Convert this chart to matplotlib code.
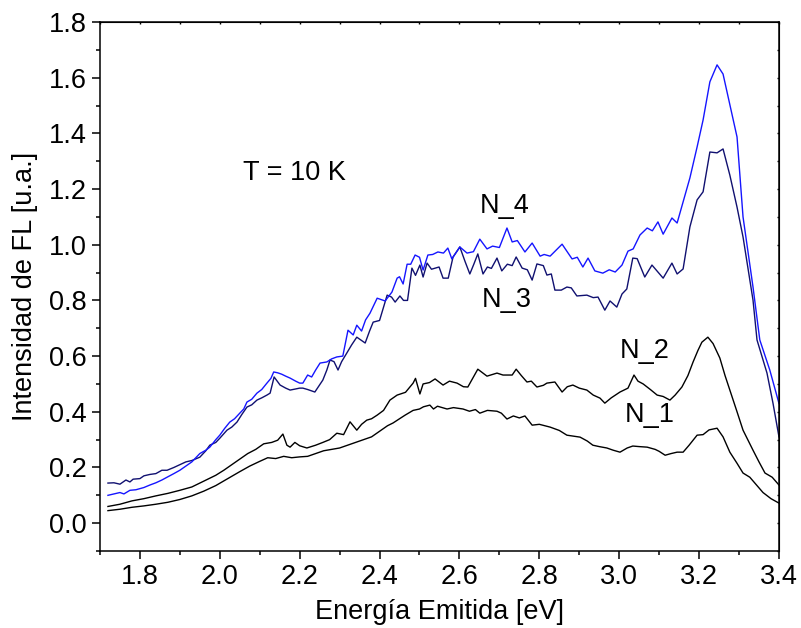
import matplotlib
matplotlib.use('Agg')
import matplotlib.pyplot as plt
from matplotlib.ticker import MultipleLocator

plt.rcParams['font.family'] = ['Liberation Sans', 'DejaVu Sans']

# N_1 (lowest curve)
n1_x = [1.72, 1.75, 1.78, 1.81, 1.84, 1.87, 1.90, 1.93, 1.96, 1.99, 2.02, 2.05, 2.075, 2.10, 2.12,
        2.14, 2.16, 2.18, 2.20, 2.22, 2.24, 2.26, 2.28, 2.30, 2.32, 2.34, 2.36, 2.38, 2.40, 2.42,
        2.434, 2.45, 2.464, 2.484, 2.50, 2.51, 2.526, 2.535, 2.545, 2.569, 2.585, 2.609, 2.625,
        2.64, 2.651, 2.67, 2.694, 2.705, 2.719, 2.735, 2.75, 2.764, 2.782, 2.80, 2.827, 2.85,
        2.869, 2.902, 2.92, 2.934, 2.95, 2.969, 2.985, 3.002, 3.02, 3.034, 3.05, 3.07, 3.09, 3.10,
        3.115, 3.13, 3.145, 3.16, 3.175, 3.195, 3.21, 3.225, 3.245, 3.26, 3.277, 3.295, 3.31,
        3.327, 3.345, 3.36, 3.38, 3.40]
n1_y = [0.045, 0.05, 0.057, 0.062, 0.068, 0.075, 0.085, 0.098, 0.115, 0.135, 0.16, 0.185, 0.205,
        0.222, 0.235, 0.232, 0.24, 0.235, 0.238, 0.24, 0.25, 0.26, 0.265, 0.27, 0.28, 0.29, 0.30,
        0.31, 0.33, 0.35, 0.36, 0.375, 0.388, 0.405, 0.41, 0.418, 0.424, 0.41, 0.42, 0.41, 0.415,
        0.41, 0.402, 0.408, 0.395, 0.405, 0.402, 0.395, 0.374, 0.385, 0.378, 0.385, 0.352, 0.355,
        0.345, 0.333, 0.316, 0.309, 0.295, 0.28, 0.275, 0.27, 0.262, 0.255, 0.27, 0.277, 0.275,
        0.273, 0.265, 0.258, 0.244, 0.25, 0.255, 0.255, 0.28, 0.316, 0.318, 0.335, 0.341, 0.31,
        0.255, 0.215, 0.18, 0.165, 0.135, 0.11, 0.088, 0.072]

# N_2
n2_x = [1.72, 1.75, 1.78, 1.81, 1.84, 1.87, 1.90, 1.93, 1.95, 1.97, 1.99, 2.01, 2.03, 2.05, 2.07,
        2.09, 2.11, 2.13, 2.145, 2.158, 2.168, 2.176, 2.188, 2.20, 2.218, 2.24, 2.258, 2.275,
        2.293, 2.31, 2.326, 2.343, 2.355, 2.368, 2.38, 2.394, 2.41, 2.426, 2.444, 2.465, 2.484,
        2.49, 2.501, 2.509, 2.525, 2.539, 2.559, 2.575, 2.594, 2.61, 2.621, 2.646, 2.669, 2.694,
        2.709, 2.732, 2.742, 2.755, 2.769, 2.78, 2.794, 2.81, 2.819, 2.839, 2.857, 2.87, 2.884,
        2.90, 2.919, 2.935, 2.952, 2.964, 2.98, 3.002, 3.022, 3.037, 3.047, 3.06, 3.078, 3.095,
        3.11, 3.127, 3.14, 3.157, 3.172, 3.185, 3.197, 3.207, 3.222, 3.235, 3.252, 3.265, 3.277,
        3.295, 3.31, 3.335, 3.35, 3.365, 3.383, 3.40]
n2_y = [0.06, 0.068, 0.08, 0.088, 0.098, 0.107, 0.118, 0.13, 0.144, 0.158, 0.172, 0.19, 0.21,
        0.23, 0.25, 0.265, 0.285, 0.29, 0.298, 0.32, 0.28, 0.273, 0.29, 0.278, 0.27, 0.28, 0.29,
        0.30, 0.323, 0.318, 0.364, 0.334, 0.355, 0.37, 0.375, 0.388, 0.405, 0.442, 0.46, 0.47,
        0.503, 0.52, 0.464, 0.50, 0.505, 0.518, 0.496, 0.51, 0.503, 0.49, 0.489, 0.553, 0.528,
        0.539, 0.532, 0.532, 0.553, 0.53, 0.507, 0.51, 0.489, 0.495, 0.503, 0.507, 0.471, 0.49,
        0.496, 0.485, 0.478, 0.46, 0.449, 0.431, 0.45, 0.471, 0.485, 0.532, 0.51, 0.50, 0.48,
        0.46, 0.455, 0.442, 0.46, 0.489, 0.53, 0.579, 0.62, 0.65, 0.668, 0.645, 0.593, 0.53,
        0.478, 0.40, 0.334, 0.262, 0.22, 0.18, 0.165, 0.137]

# N_3 (dark blue)
n3_x = [1.72, 1.735, 1.75, 1.765, 1.775, 1.783, 1.80, 1.81, 1.825, 1.84, 1.855, 1.868, 1.885,
        1.90, 1.915, 1.93, 1.95, 1.965, 1.975, 1.99, 2.00, 2.018, 2.03, 2.043, 2.055, 2.068, 2.08,
        2.093, 2.105, 2.118, 2.126, 2.136, 2.151, 2.165, 2.176, 2.19, 2.20, 2.208, 2.22, 2.238,
        2.258, 2.268, 2.276, 2.286, 2.296, 2.305, 2.318, 2.33, 2.343, 2.364, 2.375, 2.384, 2.40,
        2.419, 2.43, 2.439, 2.451, 2.46, 2.47, 2.481, 2.49, 2.501, 2.509, 2.519, 2.53, 2.549,
        2.559, 2.572, 2.584, 2.601, 2.614, 2.626, 2.636, 2.646, 2.659, 2.67, 2.68, 2.694, 2.706,
        2.72, 2.732, 2.742, 2.757, 2.77, 2.782, 2.794, 2.81, 2.819, 2.83, 2.839, 2.855, 2.869,
        2.88, 2.894, 2.919, 2.935, 2.947, 2.964, 2.977, 2.994, 3.007, 3.019, 3.034, 3.045, 3.064,
        3.082, 3.11, 3.132, 3.145, 3.16, 3.177, 3.195, 3.21, 3.227, 3.245, 3.26, 3.277, 3.295,
        3.31, 3.335, 3.345, 3.37, 3.385, 3.40]
n3_y = [0.144, 0.145, 0.14, 0.155, 0.148, 0.158, 0.16, 0.17, 0.175, 0.178, 0.19, 0.19, 0.20,
        0.21, 0.22, 0.225, 0.237, 0.26, 0.28, 0.29, 0.305, 0.334, 0.345, 0.363, 0.39, 0.417,
        0.425, 0.442, 0.45, 0.46, 0.467, 0.525, 0.496, 0.485, 0.478, 0.482, 0.485, 0.485, 0.48,
        0.471, 0.514, 0.55, 0.586, 0.58, 0.55, 0.58, 0.611, 0.64, 0.668, 0.647, 0.69, 0.722,
        0.728, 0.819, 0.812, 0.794, 0.816, 0.80, 0.80, 0.916, 0.89, 0.927, 0.884, 0.934, 0.912,
        0.92, 0.88, 0.88, 0.956, 0.992, 0.94, 0.895, 0.93, 0.967, 0.895, 0.92, 0.915, 0.952,
        0.906, 0.93, 0.925, 0.956, 0.916, 0.91, 0.873, 0.931, 0.925, 0.891, 0.895, 0.837, 0.837,
        0.848, 0.845, 0.816, 0.819, 0.81, 0.812, 0.765, 0.798, 0.776, 0.823, 0.841, 0.952, 0.95,
        0.884, 0.927, 0.88, 0.934, 0.895, 0.913, 1.064, 1.161, 1.19, 1.333, 1.33, 1.344, 1.25,
        1.135, 1.028, 0.801, 0.658, 0.539, 0.431, 0.31]

# N_4 (blue)
n4_x = [1.72, 1.735, 1.75, 1.76, 1.775, 1.79, 1.81, 1.825, 1.84, 1.855, 1.868, 1.885, 1.90,
        1.915, 1.93, 1.95, 1.965, 1.975, 1.99, 2.00, 2.012, 2.025, 2.037, 2.05, 2.06, 2.068, 2.08,
        2.093, 2.105, 2.118, 2.128, 2.135, 2.145, 2.155, 2.165, 2.176, 2.19, 2.20, 2.208, 2.22,
        2.23, 2.24, 2.251, 2.268, 2.28, 2.293, 2.308, 2.321, 2.334, 2.343, 2.355, 2.365, 2.376,
        2.394, 2.414, 2.431, 2.444, 2.45, 2.459, 2.469, 2.478, 2.489, 2.50, 2.509, 2.521, 2.533,
        2.546, 2.56, 2.571, 2.581, 2.601, 2.619, 2.635, 2.651, 2.669, 2.683, 2.70, 2.719, 2.732,
        2.745, 2.764, 2.782, 2.802, 2.812, 2.827, 2.857, 2.882, 2.895, 2.909, 2.922, 2.939, 2.959,
        2.975, 2.99, 3.007, 3.022, 3.035, 3.052, 3.07, 3.083, 3.097, 3.11, 3.132, 3.145, 3.177,
        3.195, 3.21, 3.227, 3.245, 3.26, 3.295, 3.31, 3.335, 3.352, 3.377, 3.40]
n4_y = [0.10, 0.105, 0.11, 0.105, 0.118, 0.12, 0.128, 0.137, 0.145, 0.155, 0.165, 0.178, 0.19,
        0.205, 0.22, 0.25, 0.262, 0.273, 0.30, 0.316, 0.34, 0.363, 0.375, 0.395, 0.41, 0.435,
        0.445, 0.467, 0.48, 0.503, 0.52, 0.543, 0.54, 0.535, 0.528, 0.521, 0.51, 0.503, 0.503,
        0.532, 0.525, 0.55, 0.575, 0.579, 0.59, 0.597, 0.60, 0.693, 0.676, 0.711, 0.69, 0.73,
        0.754, 0.808, 0.798, 0.83, 0.88, 0.885, 0.859, 0.93, 0.93, 0.963, 0.955, 0.909, 0.963,
        0.965, 0.974, 0.97, 0.988, 0.949, 0.992, 0.97, 0.975, 1.02, 0.985, 0.995, 0.99, 1.06,
        1.01, 1.015, 0.974, 1.006, 0.959, 0.965, 0.959, 1.002, 0.949, 0.955, 0.92, 0.952, 0.906,
        0.898, 0.91, 0.902, 0.927, 0.977, 0.985, 1.035, 1.06, 1.05, 1.082, 1.038, 1.096, 1.078,
        1.24, 1.351, 1.448, 1.585, 1.646, 1.613, 1.387, 1.10, 0.848, 0.658, 0.55, 0.43]

labels = ['N_1', 'N_2', 'N_3', 'N_4']
label_pos = [(3.015, 0.363), (3.002, 0.593), (2.656, 0.776), (2.651, 1.114)]

fs = 19.5
fig = plt.figure(figsize=(8.01, 6.28), dpi=100)
ax = fig.add_axes([0.1248, 0.1226, 0.8477, 0.8424])

ax.plot(n1_x, n1_y, color='black', lw=1.0)
ax.plot(n2_x, n2_y, color='black', lw=1.0)
ax.plot(n3_x, n3_y, color='#101070', lw=1.0)
ax.plot(n4_x, n4_y, color='#1515ff', lw=1.0)

for lab, (tx, ty) in zip(labels, label_pos):
    ax.text(tx, ty, lab, fontsize=fs, va='baseline', ha='left')
ax.text(2.058, 1.232, 'T = 10 K', fontsize=fs, va='baseline', ha='left')

ax.set_xlim(1.7, 3.4)
ax.set_ylim(-0.1, 1.8)
ax.xaxis.set_major_locator(MultipleLocator(0.2))
ax.xaxis.set_minor_locator(MultipleLocator(0.1))
ax.yaxis.set_major_locator(MultipleLocator(0.2))
ax.yaxis.set_minor_locator(MultipleLocator(0.1))
ax.xaxis.set_major_formatter(plt.FormatStrFormatter('%.1f'))
ax.yaxis.set_major_formatter(plt.FormatStrFormatter('%.1f'))

for sp in ax.spines.values():
    sp.set_linewidth(1.1)
ax.tick_params(which='both', direction='out', width=1.1, labelsize=fs, top=False, right=False)
ax.tick_params(which='major', length=5.5, pad=4)
ax.tick_params(which='minor', length=3)

# small inward ticks on the top and right edges
axt = ax.secondary_xaxis('top')
axt.xaxis.set_major_locator(MultipleLocator(0.2))
axt.xaxis.set_minor_locator(MultipleLocator(0.1))
axt.tick_params(which='both', direction='in', length=1.5, width=1.0, labeltop=False)
axr = ax.secondary_yaxis('right')
axr.yaxis.set_major_locator(MultipleLocator(0.2))
axr.yaxis.set_minor_locator(MultipleLocator(0.1))
axr.tick_params(which='both', direction='in', length=1.5, width=1.0, labelright=False)

ax.set_xlabel('Energía Emitida [eV]', fontsize=fs, labelpad=6)
ax.set_ylabel('Intensidad de FL [u.a.]', fontsize=fs, labelpad=8)

fig.savefig('out.png', dpi=100)
